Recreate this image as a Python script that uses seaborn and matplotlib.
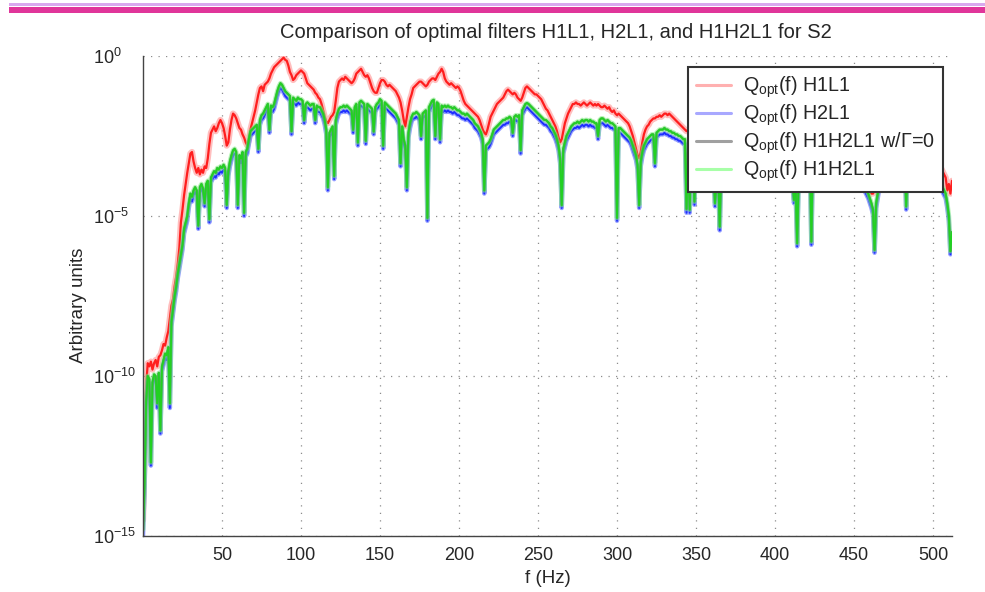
import numpy as np
import pandas as pd
import matplotlib
matplotlib.use("Agg")
import matplotlib.pyplot as plt
import seaborn as sns
from matplotlib.lines import Line2D
from matplotlib.patches import Rectangle
from matplotlib.ticker import MultipleLocator, NullLocator, FixedLocator

# ---------------- data (log10 of arbitrary units, 1 Hz bins) ----------------
freq_hz = np.arange(0, 513)

h1l1_log10 = [
    -14.5, -12.0, -10.3, -9.6, -9.7, -9.55, -9.8, -9.6, -9.5, -9.7,
    -9.4, -9.35, -9.2, -9.0, -9.05, -8.8, -8.6, -8.2, -7.8, -7.6,
    -7.2, -6.9, -6.5, -6.0, -5.2, -4.8, -4.35, -4.0, -3.65, -3.35,
    -3.05, -3.0, -3.3, -3.5, -3.65, -3.5, -3.7, -3.55, -3.65, -3.45,
    -3.5, -3.2, -2.75, -2.4, -2.3, -2.2, -2.35, -2.25, -2.1, -2.0,
    -2.1, -2.25, -2.5, -2.8, -2.7, -2.3, -2.0, -1.8, -1.85, -1.95,
    -2.1, -2.25, -2.3, -2.45, -2.55, -2.7, -2.8, -2.6, -2.3, -2.1,
    -1.9, -1.7, -1.45, -1.2, -1.0, -0.95, -1.1, -0.9, -0.85, -0.8,
    -0.7, -0.55, -0.45, -0.35, -0.3, -0.25, -0.2, -0.15, -0.1, -0.05,
    -0.12, -0.15, -0.3, -0.5, -0.6, -0.75, -0.7, -0.6, -0.55, -0.5,
    -0.45, -0.5, -0.55, -0.7, -0.85, -0.9, -0.95, -1.0, -1.05, -1.15,
    -1.2, -1.3, -1.35, -1.5, -1.7, -1.9, -2.05, -2.1, -2.0, -1.9,
    -1.85, -1.75, -1.4, -1.0, -0.8, -0.75, -0.7, -0.75, -0.65, -0.7,
    -0.75, -0.8, -0.85, -0.8, -0.7, -0.55, -0.5, -0.45, -0.4, -0.5,
    -0.6, -0.65, -0.6, -0.7, -0.85, -1.0, -1.1, -1.15, -1.15, -1.0,
    -0.85, -0.75, -0.75, -0.8, -0.9, -0.95, -0.9, -0.95, -1.0, -1.05,
    -1.1, -1.2, -1.3, -1.45, -1.7, -2.0, -2.2, -1.9, -1.6, -1.35,
    -1.2, -1.0, -0.95, -0.9, -0.85, -0.8, -0.8, -0.85, -0.9, -0.95,
    -0.9, -0.8, -0.75, -0.7, -0.7, -0.75, -0.65, -0.55, -0.5, -0.4,
    -0.5, -0.7, -0.8, -0.85, -0.9, -0.85, -0.9, -0.95, -1.0, -0.95,
    -1.0, -1.1, -1.25, -1.4, -1.5, -1.55, -1.6, -1.65, -1.7, -1.75,
    -1.8, -1.85, -1.9, -2.0, -2.15, -2.3, -2.4, -2.45, -2.3, -2.1,
    -1.9, -1.8, -1.7, -1.6, -1.5, -1.45, -1.4, -1.35, -1.3, -1.2,
    -1.1, -1.05, -1.1, -1.15, -1.2, -1.15, -1.2, -1.3, -1.35, -1.4,
    -1.3, -1.15, -1.0, -0.95, -1.0, -1.05, -1.1, -1.15, -1.2, -1.2,
    -1.25, -1.3, -1.35, -1.45, -1.55, -1.65, -1.7, -1.8, -1.9, -2.0,
    -2.1, -2.2, -2.35, -2.55, -2.7, -2.6, -2.35, -2.1, -1.95, -1.8,
    -1.7, -1.6, -1.5, -1.5, -1.45, -1.5, -1.5, -1.55, -1.5, -1.45,
    -1.5, -1.55, -1.5, -1.45, -1.5, -1.55, -1.5, -1.55, -1.5, -1.55,
    -1.6, -1.6, -1.55, -1.6, -1.65, -1.6, -1.7, -1.75, -1.7, -1.8,
    -1.85, -1.8, -1.85, -1.9, -1.95, -2.0, -2.05, -2.1, -2.2, -2.35,
    -2.5, -2.7, -2.9, -3.1, -3.2, -3.0, -2.7, -2.45, -2.3, -2.2,
    -2.15, -2.05, -2.0, -1.95, -1.95, -1.9, -1.9, -1.85, -1.9, -1.85,
    -1.8, -1.8, -1.85, -1.8, -1.85, -1.9, -1.95, -2.0, -2.05, -2.1,
    -2.15, -2.2, -2.25, -2.3, -2.35, -2.3, -2.35, -2.4, -2.45, -2.5,
    -2.55, -2.6, -2.65, -2.7, -2.8, -2.85, -2.9, -3.0, -3.05, -3.1,
    -3.2, -3.25, -3.3, -3.35, -3.2, -3.0, -2.8, -2.6, -2.5, -2.4,
    -2.35, -2.3, -2.25, -2.2, -2.2, -2.15, -2.2, -2.15, -2.2, -2.2,
    -2.25, -2.2, -2.25, -2.3, -2.25, -2.3, -2.35, -2.3, -2.35, -2.4,
    -2.4, -2.45, -2.5, -2.5, -2.55, -2.6, -2.6, -2.65, -2.7, -2.75,
    -2.8, -2.85, -2.9, -2.95, -3.0, -3.05, -3.1, -3.15, -3.2, -3.25,
    -3.3, -3.4, -3.45, -3.5, -3.4, -3.2, -3.0, -2.85, -2.7, -2.6,
    -2.55, -2.5, -2.45, -2.45, -2.4, -2.4, -2.45, -2.4, -2.45, -2.5,
    -2.45, -2.5, -2.5, -2.55, -2.55, -2.6, -2.6, -2.65, -2.7, -2.7,
    -2.75, -2.8, -2.8, -2.85, -2.9, -2.95, -3.0, -3.05, -3.1, -3.15,
    -3.2, -3.3, -3.4, -3.5, -3.6, -3.7, -3.8, -3.9, -4.0, -4.1,
    -4.2, -4.3, -4.3, -4.2, -4.0, -3.7, -3.4, -3.1, -2.9, -2.8,
    -2.7, -2.65, -2.6, -2.55, -2.55, -2.5, -2.55, -2.5, -2.55, -2.6,
    -2.55, -2.6, -2.6, -2.65, -2.65, -2.7, -2.7, -2.75, -2.8, -2.8,
    -2.85, -2.9, -2.9, -2.95, -3.0, -3.0, -3.05, -3.1, -3.1, -3.15,
    -3.2, -3.25, -3.3, -3.35, -3.4, -3.5, -3.6, -3.7, -3.8, -4.2,
    -4.0, -4.3, -3.9,
]

h1h2l1_log10 = [
    -14.8, -13.3, -10.8, -10.0, -10.1, -12.7, -10.2, -9.95, -10.0, -10.85,
    -9.9, -11.7, -9.7, -9.5, -9.3, -9.35, -9.1, -10.85, -8.3, -7.9,
    -7.5, -7.2, -6.8, -6.5, -6.2, -5.9, -5.4, -5.2, -5.0, -4.6,
    -4.3, -4.4, -4.2, -4.1, -4.2, -5.3, -4.1, -4.0, -4.15, -4.6,
    -4.0, -3.9, -5.1, -3.8, -3.7, -3.6, -3.65, -3.5, -3.55, -3.45,
    -3.5, -3.4, -3.5, -4.65, -3.6, -3.3, -3.1, -2.95, -2.9, -3.0,
    -4.65, -3.1, -3.2, -3.0, -4.9, -3.0, -2.9, -2.6, -2.35, -2.3,
    -2.25, -2.2, -2.15, -2.9, -2.0, -1.85, -1.8, -1.7, -1.6, -1.5,
    -2.3, -1.55, -1.6, -1.5, -1.3, -1.1, -0.95, -0.85, -0.9, -1.0,
    -1.1, -1.15, -1.2, -1.25, -2.35, -1.3, -1.35, -1.4, -1.3, -1.35,
    -1.35, -1.4, -2.0, -1.5, -1.45, -1.5, -1.55, -1.5, -1.5, -2.0,
    -1.55, -1.6, -1.6, -1.7, -1.8, -2.0, -2.3, -4.1, -2.4, -2.3,
    -2.2, -3.75, -2.0, -1.8, -1.65, -1.6, -1.6, -1.55, -1.6, -1.55,
    -1.6, -1.65, -1.7, -2.3, -1.6, -1.5, -2.7, -1.45, -1.4, -1.45,
    -1.5, -2.65, -1.5, -1.55, -1.6, -1.65, -2.36, -1.6, -1.5, -1.45,
    -1.35, -1.4, -2.8, -1.45, -1.5, -1.55, -1.6, -1.65, -1.7, -1.75,
    -1.8, -1.9, -2.0, -3.35, -2.2, -2.6, -2.8, -4.1, -2.4, -2.1,
    -1.9, -1.8, -1.8, -1.75, -1.8, -1.85, -2.5, -1.8, -1.75, -1.7,
    -5.06, -1.6, -1.5, -1.4, -1.37, -2.5, -1.45, -1.5, -2.6, -1.55,
    -1.6, -1.55, -1.6, -1.55, -1.6, -1.6, -1.65, -1.6, -1.65, -1.7,
    -1.7, -1.75, -1.8, -1.8, -1.85, -1.8, -1.85, -1.9, -1.95, -2.0,
    -2.1, -2.15, -2.2, -2.3, -2.4, -2.6, -4.2, -2.8, -2.75, -2.7,
    -2.6, -2.45, -2.3, -2.25, -2.2, -2.15, -2.1, -2.05, -2.0, -2.0,
    -1.95, -1.95, -1.9, -1.95, -2.4, -1.9, -1.85, -1.9, -1.85, -2.94,
    -1.7, -1.6, -1.5, -1.47, -1.5, -1.55, -1.6, -1.65, -1.7, -1.75,
    -1.8, -1.85, -1.9, -1.95, -2.0, -2.0, -2.05, -2.1, -2.2, -2.25,
    -2.35, -2.45, -2.6, -2.8, -3.2, -4.66, -2.9, -2.7, -2.5, -2.4,
    -2.3, -2.2, -2.15, -2.1, -2.1, -2.05, -2.1, -2.05, -2.0, -2.05,
    -2.0, -2.0, -2.05, -2.0, -2.05, -2.05, -2.1, -2.1, -2.5, -2.0,
    -1.95, -1.95, -2.0, -2.05, -2.0, -2.05, -2.1, -2.1, -2.15, -2.2,
    -5.06, -2.25, -2.25, -2.3, -2.35, -2.4, -2.45, -2.5, -2.55, -2.65,
    -2.8, -2.95, -3.1, -3.4, -4.66, -3.3, -3.0, -2.8, -2.7, -2.6,
    -2.55, -2.5, -2.45, -2.45, -3.35, -2.4, -2.35, -2.3, -2.3, -2.3,
    -2.25, -2.3, -2.3, -2.35, -2.35, -2.4, -2.4, -2.45, -2.45, -2.5,
    -2.5, -2.55, -2.6, -2.6, -4.78, -2.65, -4.8, -2.7, -2.7, -4.55,
    -2.75, -2.8, -2.85, -2.9, -3.0, -3.05, -3.1, -3.2, -3.25, -3.3,
    -3.4, -3.5, -4.6, -3.8, -3.7, -5.33, -3.3, -3.1, -3.0, -2.9,
    -2.85, -2.8, -2.75, -2.7, -2.7, -2.65, -2.7, -2.65, -2.7, -2.7,
    -2.75, -2.7, -2.75, -2.8, -2.75, -2.8, -2.85, -2.8, -2.85, -2.9,
    -2.9, -2.95, -3.0, -3.0, -3.05, -3.1, -3.1, -3.15, -3.2, -3.25,
    -3.3, -3.35, -3.4, -3.45, -3.5, -3.55, -3.6, -3.65, -3.7, -3.75,
    -3.8, -3.9, -4.5, -4.0, -5.85, -3.7, -3.5, -3.35, -3.2, -3.1,
    -3.05, -3.0, -2.95, -5.8, -2.9, -2.9, -2.95, -2.9, -2.95, -3.0,
    -2.95, -3.0, -3.0, -3.05, -3.05, -3.1, -3.1, -3.15, -3.2, -3.2,
    -3.25, -3.3, -3.3, -3.35, -3.4, -3.45, -3.5, -3.55, -3.6, -3.65,
    -3.7, -3.75, -3.8, -3.85, -3.9, -4.0, -4.05, -4.1, -4.2, -4.3,
    -4.45, -4.6, -4.8, -6.06, -4.6, -4.3, -4.0, -3.6, -3.4, -3.3,
    -3.2, -3.15, -3.1, -3.05, -3.05, -3.0, -3.05, -3.0, -3.05, -3.1,
    -3.05, -3.1, -3.1, -4.7, -3.15, -3.2, -3.2, -3.25, -3.3, -3.3,
    -3.35, -3.4, -3.4, -3.45, -3.5, -3.5, -3.55, -3.6, -3.6, -3.65,
    -3.7, -3.75, -3.8, -3.85, -3.9, -4.0, -4.1, -4.2, -4.3, -4.6,
    -5.0, -6.1, -5.5,
]

h2l1_log10 = [
    -15.0, -13.5, -11.0, -10.15, -10.25, -12.8, -10.35, -10.1, -10.15, -11.0,
    -10.05, -11.8, -9.85, -9.65, -9.45, -9.5, -9.25, -11.0, -8.45, -8.05,
    -7.65, -7.35, -6.95, -6.65, -6.35, -6.05, -5.55, -5.35, -5.15, -4.75,
    -4.45, -4.55, -4.35, -4.25, -4.35, -5.4, -4.25, -4.15, -4.3, -4.7,
    -4.15, -4.05, -5.2, -3.95, -3.85, -3.75, -3.8, -3.65, -3.7, -3.6,
    -3.65, -3.55, -3.65, -4.75, -3.75, -3.45, -3.25, -3.1, -3.05, -3.15,
    -4.75, -3.25, -3.35, -3.15, -5.0, -3.15, -3.05, -2.75, -2.5, -2.45,
    -2.4, -2.35, -2.3, -3.0, -2.15, -2.0, -1.95, -1.85, -1.75, -1.65,
    -2.4, -1.7, -1.75, -1.65, -1.45, -1.25, -1.1, -1.0, -1.05, -1.15,
    -1.25, -1.3, -1.35, -1.4, -2.45, -1.45, -1.5, -1.55, -1.45, -1.5,
    -1.5, -1.55, -2.1, -1.65, -1.6, -1.65, -1.7, -1.65, -1.65, -2.1,
    -1.7, -1.75, -1.75, -1.85, -1.95, -2.15, -2.45, -4.2, -2.55, -2.45,
    -2.35, -3.85, -2.15, -1.95, -1.8, -1.75, -1.75, -1.7, -1.75, -1.7,
    -1.75, -1.8, -1.85, -2.4, -1.75, -1.65, -2.8, -1.6, -1.55, -1.6,
    -1.65, -2.75, -1.65, -1.7, -1.75, -1.8, -2.45, -1.75, -1.65, -1.6,
    -1.5, -1.55, -2.9, -1.6, -1.65, -1.7, -1.75, -1.8, -1.85, -1.9,
    -1.95, -2.05, -2.15, -3.45, -2.35, -2.75, -2.95, -4.2, -2.55, -2.25,
    -2.05, -1.95, -1.95, -1.9, -1.95, -2.0, -2.6, -1.95, -1.9, -1.85,
    -5.15, -1.75, -1.65, -1.55, -1.5, -2.6, -1.6, -1.65, -2.7, -1.7,
    -1.75, -1.7, -1.75, -1.7, -1.75, -1.75, -1.8, -1.75, -1.8, -1.85,
    -1.85, -1.9, -1.95, -1.95, -2.0, -1.95, -2.0, -2.05, -2.1, -2.15,
    -2.25, -2.3, -2.35, -2.45, -2.55, -2.75, -4.3, -2.95, -2.9, -2.85,
    -2.75, -2.6, -2.45, -2.4, -2.35, -2.3, -2.25, -2.2, -2.15, -2.15,
    -2.1, -2.1, -2.05, -2.1, -2.5, -2.05, -2.0, -2.05, -2.0, -3.05,
    -1.85, -1.75, -1.65, -1.6, -1.65, -1.7, -1.75, -1.8, -1.85, -1.9,
    -1.95, -2.0, -2.05, -2.1, -2.15, -2.15, -2.2, -2.25, -2.35, -2.4,
    -2.5, -2.6, -2.75, -2.95, -3.35, -4.75, -3.05, -2.85, -2.65, -2.55,
    -2.45, -2.35, -2.3, -2.25, -2.25, -2.2, -2.25, -2.2, -2.15, -2.2,
    -2.15, -2.15, -2.2, -2.15, -2.2, -2.2, -2.25, -2.25, -2.6, -2.15,
    -2.1, -2.1, -2.15, -2.2, -2.15, -2.2, -2.25, -2.25, -2.3, -2.35,
    -5.15, -2.4, -2.4, -2.45, -2.5, -2.55, -2.6, -2.65, -2.7, -2.8,
    -2.95, -3.1, -3.25, -3.55, -4.75, -3.45, -3.15, -2.95, -2.85, -2.75,
    -2.7, -2.65, -2.6, -2.6, -3.45, -2.55, -2.5, -2.45, -2.45, -2.45,
    -2.4, -2.45, -2.45, -2.5, -2.5, -2.55, -2.55, -2.6, -2.6, -2.65,
    -2.65, -2.7, -2.75, -2.75, -4.9, -2.8, -4.9, -2.85, -2.85, -4.65,
    -2.9, -2.95, -3.0, -3.05, -3.15, -3.2, -3.25, -3.35, -3.4, -3.45,
    -3.55, -3.65, -4.7, -3.95, -3.85, -5.45, -3.45, -3.25, -3.15, -3.05,
    -3.0, -2.95, -2.9, -2.85, -2.85, -2.8, -2.85, -2.8, -2.85, -2.85,
    -2.9, -2.85, -2.9, -2.95, -2.9, -2.95, -3.0, -2.95, -3.0, -3.05,
    -3.05, -3.1, -3.15, -3.15, -3.2, -3.25, -3.25, -3.3, -3.35, -3.4,
    -3.45, -3.5, -3.55, -3.6, -3.65, -3.7, -3.75, -3.8, -3.85, -3.9,
    -3.95, -4.05, -4.6, -4.15, -5.95, -3.85, -3.65, -3.5, -3.35, -3.25,
    -3.2, -3.15, -3.1, -5.9, -3.05, -3.05, -3.1, -3.05, -3.1, -3.15,
    -3.1, -3.15, -3.15, -3.2, -3.2, -3.25, -3.25, -3.3, -3.35, -3.35,
    -3.4, -3.45, -3.45, -3.5, -3.55, -3.6, -3.65, -3.7, -3.75, -3.8,
    -3.85, -3.9, -3.95, -4.0, -4.05, -4.15, -4.2, -4.25, -4.35, -4.45,
    -4.6, -4.75, -4.95, -6.15, -4.75, -4.45, -4.15, -3.75, -3.55, -3.45,
    -3.35, -3.3, -3.25, -3.2, -3.2, -3.15, -3.2, -3.15, -3.2, -3.25,
    -3.2, -3.25, -3.25, -4.8, -3.3, -3.35, -3.35, -3.4, -3.45, -3.45,
    -3.5, -3.55, -3.55, -3.6, -3.65, -3.65, -3.7, -3.75, -3.75, -3.8,
    -3.85, -3.9, -3.95, -4.0, -4.05, -4.15, -4.25, -4.35, -4.45, -4.75,
    -5.15, -6.2, -5.65,
]

# H1H2L1 with Gamma=0 coincides with the H1H2L1 filter at this resolution
h1h2l1_gamma0_log10 = list(h1h2l1_log10)

series_labels = [
    r"Q$_{\rm opt}$(f) H1L1",
    r"Q$_{\rm opt}$(f) H2L1",
    r"Q$_{\rm opt}$(f) H1H2L1 w/Γ=0",
    r"Q$_{\rm opt}$(f) H1H2L1",
]
x_ticks = [50, 100, 150, 200, 250, 300, 350, 400, 450, 500]
y_ticks = [1e-15, 1e-10, 1e-5, 1e0]

# ---------------- styling ----------------
sns.set_style("white")
plt.rcParams["font.family"] = ["Liberation Sans", "DejaVu Sans"]
plt.rcParams["mathtext.fontset"] = "custom"
plt.rcParams["mathtext.rm"] = "Liberation Sans"
plt.rcParams["mathtext.it"] = "Liberation Sans:italic"
plt.rcParams["mathtext.bf"] = "Liberation Sans:bold"

fig = plt.figure(figsize=(9.85, 5.92), dpi=100)
ax = fig.add_axes([143 / 985, 56 / 592, 809 / 985, 480 / 592])

df = pd.DataFrame({
    "f": freq_hz,
    "H1L1": np.power(10.0, h1l1_log10),
    "H2L1": np.power(10.0, h2l1_log10),
    "G0": np.power(10.0, h1h2l1_gamma0_log10),
    "H1H2L1": np.power(10.0, h1h2l1_log10),
})

kw = dict(ax=ax, estimator=None, sort=False)
# red filter: light halo + core line (noisy band look)
sns.lineplot(data=df, x="f", y="H1L1", color="#ff8a8a", linewidth=4.5, alpha=0.55, **kw)
sns.lineplot(data=df, x="f", y="H1L1", color="#ff1e1e", linewidth=1.6, **kw)
# blue filter
sns.lineplot(data=df, x="f", y="H2L1", color="#6a78ff", linewidth=3.2, alpha=0.7, **kw)
sns.lineplot(data=df, x="f", y="H2L1", color="#1e2eff", linewidth=1.4, **kw)
# grey (Gamma = 0) filter
sns.lineplot(data=df, x="f", y="G0", color="#2f5f3a", linewidth=1.8, **kw)
# green filter
sns.lineplot(data=df, x="f", y="H1H2L1", color="#7cf07c", linewidth=3.4, alpha=0.55, **kw)
sns.lineplot(data=df, x="f", y="H1H2L1", color="#18d818", linewidth=1.3, alpha=0.85, **kw)

ax.set_yscale("log")
ax.set_xlim(0, 512)
ax.set_ylim(1e-15, 1e0)
ax.xaxis.set_major_locator(FixedLocator(x_ticks))
ax.xaxis.set_minor_locator(MultipleLocator(10))
ax.yaxis.set_major_locator(FixedLocator(y_ticks))
ax.yaxis.set_minor_locator(NullLocator())

ax.grid(True, which="major", linestyle=(0, (1, 5)), color="#8c8c8c", linewidth=0.9)
ax.tick_params(axis="both", which="major", direction="in", length=8, width=1,
               color="#555555", labelsize=13)
ax.tick_params(axis="x", which="major", pad=8)
ax.tick_params(axis="y", which="major", pad=36)
ax.tick_params(axis="x", which="minor", direction="in", length=3, width=0.8, color="#777777")
for lab in ax.get_yticklabels():
    lab.set_horizontalalignment("left")
for s in ["top", "right"]:
    ax.spines[s].set_visible(False)
for s in ["left", "bottom"]:
    ax.spines[s].set_color("#444444")
    ax.spines[s].set_linewidth(1.0)

ax.set_title("Comparison of optimal filters H1L1, H2L1, and H1H2L1 for S2", fontsize=14.5,
             pad=13, x=(556 - 143) / 809)
ax.set_xlabel("f (Hz)", fontsize=13.5, labelpad=4)
ax.set_ylabel("Arbitrary units", fontsize=13.5)
ax.yaxis.set_label_coords(-56 / 809, 0.48)

legend_colors = ["#ffb0b0", "#a8a8ff", "#a0a0a0", "#a8ffa8"]
handles = [Line2D([0], [0], color=c, linewidth=2.2) for c in legend_colors]
leg = ax.legend(handles, series_labels, loc="upper right", bbox_to_anchor=(0.989, 0.977),
                borderaxespad=0, fontsize=14.2, frameon=True, fancybox=False,
                handlelength=1.75, handletextpad=0.65, borderpad=0.4, labelspacing=0.12)
leg.get_frame().set_edgecolor("#333333")
leg.get_frame().set_linewidth(1.5)
leg.get_frame().set_facecolor("white")
leg.get_frame().set_alpha(1.0)

# decorative page rules at top
fig.add_artist(Rectangle((9 / 985, 1 - 6 / 592), 1, 3 / 592, transform=fig.transFigure,
                         color="#d9a8ee", linewidth=0))
fig.add_artist(Rectangle((9 / 985, 1 - 13 / 592), 1, 6 / 592, transform=fig.transFigure,
                         color="#e0359a", linewidth=0))

fig.savefig("out.png", dpi=100)
